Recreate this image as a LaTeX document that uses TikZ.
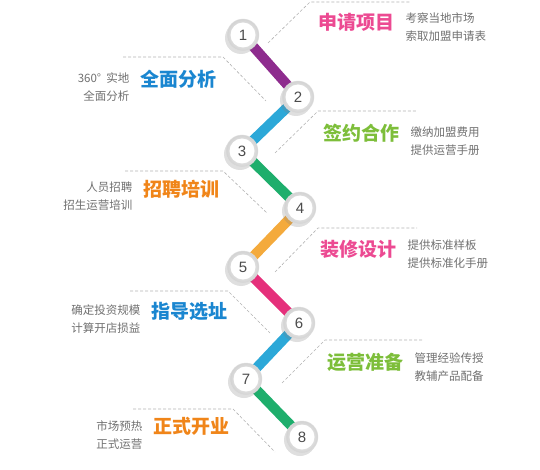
\documentclass[tikz,border=0pt]{standalone}
\usepackage{fontspec}
\setsansfont{Liberation Sans}
\newfontfamily\cjk{Noto Sans CJK SC}
\usetikzlibrary{backgrounds,shadows,positioning}
\definecolor{purp}{HTML}{8E2C8E}
\definecolor{sky}{HTML}{2CA8D8}
\definecolor{leaf}{HTML}{1EAE6C}
\definecolor{amber}{HTML}{F4AA3C}
\definecolor{rose}{HTML}{E5307B}
\definecolor{tpink}{HTML}{EC4A92}
\definecolor{tblue}{HTML}{1A86D0}
\definecolor{tgreen}{HTML}{7DBE3A}
\definecolor{torange}{HTML}{F08519}
\definecolor{notegray}{HTML}{707070}

\begin{document}
\begin{tikzpicture}[x=1pt, y=-1pt,
        node distance=11pt,
        stepnum/.style={circle, minimum size=32pt, inner sep=0pt,
                        draw=gray!25, line width=0.4pt,
                        shading=radial, outer color=gray!35, inner color=white,
                        drop shadow={shadow xshift=-2pt, shadow yshift=-3pt, opacity=0.25},
                        path picture={\fill[white] (path picture bounding box.center) circle (12.5pt);},
                        font=\sffamily\fontsize{15}{15}\selectfont, text=black!70},
        link/.style={line width=10pt},
        lead/.style={gray!60, line width=0.6pt, dash pattern=on 3pt off 2pt},
        title/.style={inner sep=0pt, font=\cjk\bfseries\fontsize{19}{22}\selectfont},
        note/.style={inner sep=0pt, font=\cjk\fontsize{11.5}{18}\selectfont, text=notegray}
    ]
        \useasboundingbox (0,0) rectangle (540,470);

        % numbered steps
        \foreach \n/\p in {1/{243,35}, 2/{298,97}, 3/{242,151}, 4/{300,208},
                           5/{243,267}, 6/{299,323}, 7/{246,379}, 8/{302,437}}
            \node[stepnum] (c\n) at (\p) {\n};

        \begin{scope}[on background layer]
            \foreach \a/\b/\c in {1/2/purp, 2/3/sky, 3/4/leaf, 4/5/amber,
                                  5/6/rose, 6/7/sky, 7/8/leaf}
                \draw[link, \c] (c\a.center) -- (c\b.center);
        \end{scope}

        % dashed leaders
        \draw[lead] (268,43) -- (310,2) -- (410,2);
        \draw[lead] (123,57) -- (223,57) -- (266,101);
        \draw[lead] (275,153) -- (318,111) -- (417,111);
        \draw[lead] (125,171) -- (223,171) -- (267,213);
        \draw[lead] (275,272) -- (318,228) -- (417,228);
        \draw[lead] (130,291) -- (228,291) -- (270,333);
        \draw[lead] (282,383) -- (325,340) -- (422,340);
        \draw[lead] (133,409) -- (233,409) -- (275,452);

        % right side
        \node[title, text=tpink, anchor=west] (t1) at (318,22) {申请项目};
        \node[note, align=left, right=of t1, yshift=-5pt] (n1) {考察当地市场\\索取加盟申请表};
        \node[title, text=tgreen, anchor=west] (t3) at (323,133) {签约合作};
        \node[note, align=left, right=of t3, yshift=-8pt] (n3) {缴纳加盟费用\\提供运营手册};
        \node[title, text=tpink, anchor=west] (t5) at (320,249) {装修设计};
        \node[note, align=left, right=of t5, yshift=-5pt] (n5) {提供标准样板\\提供标准化手册};
        \node[title, text=tgreen, anchor=west] (t7) at (327,362) {运营准备};
        \node[note, align=left, right=of t7, yshift=-5pt] (n7) {管理经验传授\\教辅产品配备};

        % left side
        \node[title, text=tblue, anchor=east] (t2) at (217,79) {全面分析};
        \node[note, align=right, left=of t2, yshift=-8pt] (n2) {360°\ \ 实地\\全面分析};
        \node[title, text=torange, anchor=east] (t4) at (220,189) {招聘培训};
        \node[note, align=right, left=of t4, yshift=-7pt] (n4) {人员招聘\\招生运营培训};
        \node[title, text=tblue, anchor=east] (t6) at (228,311) {指导选址};
        \node[note, align=right, left=of t6, yshift=-8pt] (n6) {确定投资规模\\计算开店损益};
        \node[title, text=torange, anchor=east] (t8) at (230,426) {正式开业};
        \node[note, align=right, left=of t8, yshift=-9pt] (n8) {市场预热\\正式运营};
    \end{tikzpicture}
\end{document}
